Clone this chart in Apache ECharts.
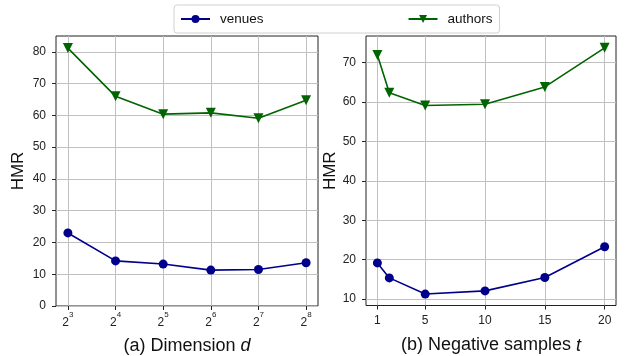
<!DOCTYPE html>
<html>
<head>
<meta charset="utf-8">
<script src="https://cdn.jsdelivr.net/npm/echarts@6/dist/echarts.min.js"></script>
<style>
  html, body { margin: 0; padding: 0; background: #fff; }
  #chart { width: 625px; height: 356px; }
</style>
</head>
<body>
<div id="chart"></div>
<script>
// (a) dimension d = 2^k
var dimExp = [3, 4, 5, 6, 7, 8];
var dimVenues = [23.0, 14.2, 13.2, 11.3, 11.5, 13.6];
var dimAuthors = [81.2, 66.0, 60.4, 60.8, 59.1, 64.8];
var dimYTicks = [0, 10, 20, 30, 40, 50, 60, 70, 80];

// (b) negative samples t
var negT = [1, 2, 5, 10, 15, 20];
var negVenues = [19.2, 15.4, 11.3, 12.1, 15.5, 23.3];
var negAuthors = [71.9, 62.3, 59.1, 59.4, 63.8, 73.7];
var negXTicks = [1, 5, 10, 15, 20];
var negYTicks = [10, 20, 30, 40, 50, 60, 70];

var FONT = 'Liberation Sans, Arial, sans-serif';
var BLUE = '#00008b';
var GREEN = '#006400';

function pairs(xs, ys) {
  return xs.map(function (x, i) { return [x, ys[i]]; });
}

function xAxisOf(idx, min, max, ticks, fmt, nameRich, nameGap, labelMargin) {
  return {
    type: 'value',
    gridIndex: idx,
    min: min,
    max: max,
    name: nameRich,
    nameLocation: 'middle',
    nameGap: nameGap,
    nameTextStyle: {
      fontFamily: FONT,
      fontSize: 18,
      color: '#111',
      rich: {
        i: { fontFamily: FONT, fontSize: 18, fontStyle: 'italic', color: '#111' }
      }
    },
    axisLine: { show: false },
    axisTick: { show: true, customValues: ticks, length: 4, lineStyle: { color: '#222' } },
    axisLabel: {
      customValues: ticks,
      formatter: fmt,
      fontFamily: FONT,
      fontSize: 12,
      color: '#222',
      margin: labelMargin,
      rich: {
        b: { fontFamily: FONT, fontSize: 12, color: '#222', verticalAlign: 'bottom', lineHeight: 18 },
        s: { fontFamily: FONT, fontSize: 8, color: '#222', verticalAlign: 'top', lineHeight: 8 }
      }
    },
    splitLine: { show: true, lineStyle: { color: '#c0c0c0', width: 1 } }
  };
}

function yAxisOf(idx, min, max, ticks, gap) {
  return {
    type: 'value',
    gridIndex: idx,
    min: min,
    max: max,
    name: 'HMR',
    nameLocation: 'middle',
    nameGap: gap,
    nameTextStyle: { fontFamily: FONT, fontSize: 17, color: '#111' },
    axisLine: { show: false },
    axisTick: { show: true, customValues: ticks, length: 4, lineStyle: { color: '#222' } },
    axisLabel: {
      customValues: ticks,
      fontFamily: FONT,
      fontSize: 12,
      color: '#222',
      margin: 10
    },
    splitLine: { show: true, lineStyle: { color: '#c0c0c0', width: 1 } }
  };
}

function lineSeries(name, idx, data, color, symbol, size) {
  return {
    name: name,
    type: 'line',
    xAxisIndex: idx,
    yAxisIndex: idx,
    data: data,
    symbol: symbol,
    symbolSize: size,
    symbolRotate: symbol === 'triangle' ? 180 : 0,
    lineStyle: { color: color, width: 1.6 },
    itemStyle: { color: color },
    animation: false
  };
}

var chart = echarts.init(document.getElementById('chart'));
chart.setOption({
  animation: false,
  backgroundColor: '#fff',
  legend: {
    data: ['venues', 'authors'],
    left: 174,
    top: 5,
    padding: [7, 7, 7, 6],
    itemGap: 144,
    itemWidth: 29,
    itemHeight: 10,
    borderColor: '#d0d0d0',
    borderWidth: 1,
    borderRadius: 3,
    textStyle: { fontFamily: FONT, fontSize: 13.5, color: '#111', padding: [0, 0, 0, 5] }
  },
  grid: [
    { left: 56, top: 36, width: 262, height: 270, outerBoundsMode: 'none', show: true, borderColor: '#222', borderWidth: 1, backgroundColor: 'transparent' },
    { left: 366, top: 36, width: 250, height: 269.5, outerBoundsMode: 'none', show: true, borderColor: '#222', borderWidth: 1, backgroundColor: 'transparent' }
  ],
  xAxis: [
    xAxisOf(0, 2.75, 8.25, dimExp, function (v) { return '{b|2}{s|' + v + '}'; },
      '(a) Dimension {i|d}', 31, 5),
    xAxisOf(1, 0.05, 20.95, negXTicks, function (v) { return v; },
      '(b) Negative samples {i|t}', 31, 9)
  ],
  yAxis: [
    yAxisOf(0, 0, 85, dimYTicks, 29),
    yAxisOf(1, 8.4, 76.7, negYTicks, 26)
  ],
  series: [
    lineSeries('venues', 0, pairs(dimExp, dimVenues), BLUE, 'circle', 9),
    lineSeries('authors', 0, pairs(dimExp, dimAuthors), GREEN, 'triangle', 10),
    lineSeries('venues', 1, pairs(negT, negVenues), BLUE, 'circle', 9),
    lineSeries('authors', 1, pairs(negT, negAuthors), GREEN, 'triangle', 10)
  ]
});
</script>
</body>
</html>
